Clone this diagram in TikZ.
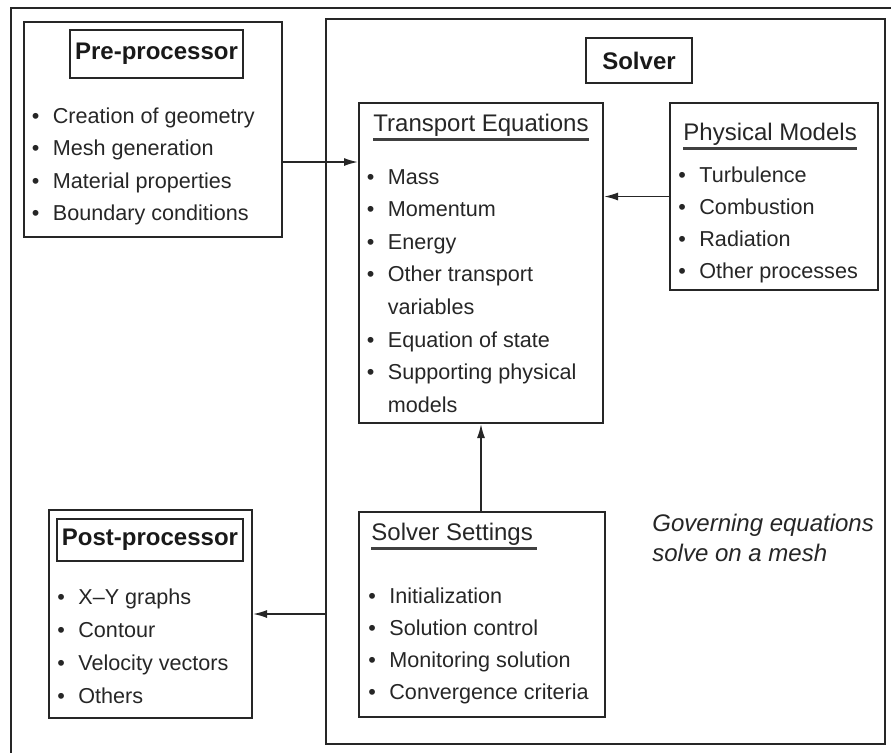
\documentclass[tikz,border=0pt]{standalone}
\usepackage{fontspec}
\setmainfont{Liberation Sans}
\usetikzlibrary{arrows.meta,positioning}

\newcommand{\blt}[1]{\makebox[10.5pt][l]{\textbullet}#1}
\newcommand{\bltcont}[1]{\hspace*{10.5pt}#1}

\tikzset{
  frame/.style={draw=black!85, line width=1pt},
  box/.style={draw=black!85, line width=1pt, inner sep=0pt},
  tbox/.style={draw=black!85, line width=1pt, inner sep=0pt, text=black!90,
    font=\fontsize{12}{14}\selectfont\bfseries},
  ttl/.style={font=\fontsize{12}{14}\selectfont, inner xsep=0pt, inner ysep=1.5pt,
    anchor=base west, text=black!85},
  uline/.style={line width=1.3pt, black!75},
  itm/.style={font=\fontsize{10.8}{13}\selectfont, inner sep=0pt, anchor=base west, text=black!85},
  arr/.style={-{Latex[length=7pt,width=4pt]}, line width=0.8pt, black!85},
}

\begin{document}
\begin{tikzpicture}[x=0.5pt, y=-0.5pt]
\useasboundingbox (0,0) rectangle (891,752);
\clip (0,0) rectangle (891,752);
% outer frame (right and bottom edges run off the page)
\draw[frame] (11,8) rectangle (900,762);

% main boxes
\node[box, minimum width=129pt, minimum height=107.5pt] (pre) at (153,129.5) {};
\node[box, minimum width=279.5pt, minimum height=362.5pt] (solver) at (605.5,381.5) {};
\node[box, minimum width=122pt, minimum height=160pt] (tr) at (481,263) {};
\node[box, minimum width=104pt, minimum height=93.5pt] (phys) at (774,196.5) {};
\node[box, minimum width=123pt, minimum height=102.5pt] (set) at (482,614.5) {};
\node[box, minimum width=101.5pt, minimum height=104pt] (post) at (150.5,614) {};

% boxed titles
\node[tbox, minimum width=86.5pt, minimum height=24pt] (pre-t) at (156.5,54) {Pre-processor};
\node[tbox, minimum width=53pt, minimum height=22.5pt] (solver-t) at (639,60.5) {Solver};
\node[tbox, minimum width=93pt, minimum height=21pt] (post-t) at (150,540) {Post-processor};

% underlined titles
\node[ttl] (tr-t) at (373,131) {Transport Equations};
\draw[uline] (tr-t.south west) -- (tr-t.south east);
\node[ttl] (phys-t) at (683,140) {Physical Models};
\draw[uline] (phys-t.south west) -- (phys-t.south east);
\node[ttl] (set-t) at (371,540) {Solver Settings};
\draw[uline] (set-t.south west) -- ([xshift=2pt]set-t.south east);

% item lists
\foreach \t [count=\i] in {\blt{Creation of geometry}, \blt{Mesh generation},
    \blt{Material properties}, \blt{Boundary conditions}}
  \node[itm] (pre-\i) at (31.5,{123.5+32.3*(\i-1)}) {\t};
\foreach \t [count=\i] in {\blt{Mass}, \blt{Momentum}, \blt{Energy},
    \blt{Other transport}, \bltcont{variables}, \blt{Equation of state},
    \blt{Supporting physical}, \bltcont{models}}
  \node[itm] (tr-\i) at (366.5,{184+32.6*(\i-1)}) {\t};
\foreach \t [count=\i] in {\blt{Turbulence}, \blt{Combustion}, \blt{Radiation},
    \blt{Other processes}}
  \node[itm] (phys-\i) at (678,{182+32.3*(\i-1)}) {\t};
\foreach \t [count=\i] in {\blt{Initialization}, \blt{Solution control},
    \blt{Monitoring solution}, \blt{Convergence criteria}}
  \node[itm] (set-\i) at (368,{603+32.3*(\i-1)}) {\t};
\foreach \t [count=\i] in {\blt{X--Y graphs}, \blt{Contour}, \blt{Velocity vectors},
    \blt{Others}}
  \node[itm] (post-\i) at (57,{604+33*(\i-1)}) {\t};

\node[anchor=north west, align=left, inner sep=0pt, text=black!85,
  font=\fontsize{12}{15}\selectfont\itshape] (gov) at (652,514)
  {Governing equations\\solve on a mesh};

% connectors
\draw[arr] ([yshift=-16.25pt]pre.east) -- ([yshift=-16.25pt]pre.east -| tr.west);
\draw[arr] (phys.west) -- (phys.west -| tr.east);
\draw[arr] (tr.south |- set.north) -- (tr.south);
\draw[arr] (solver.west |- post.east) -- (post.east);
\end{tikzpicture}
\end{document}
